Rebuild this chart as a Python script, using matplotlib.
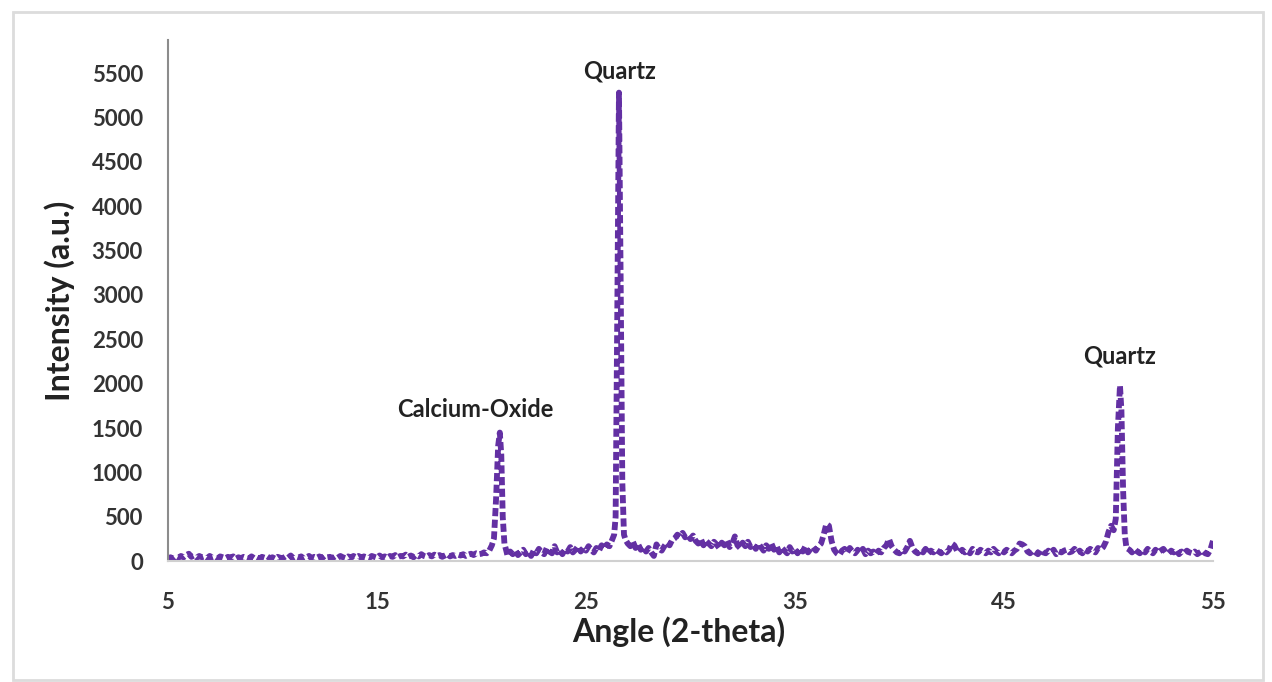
import numpy as np
import matplotlib.pyplot as plt
from matplotlib.patches import Rectangle

# XRD scan, angle (2-theta) and intensity (a.u.)
angle = [
    5.0, 5.125, 5.25, 5.375, 5.5, 5.625, 5.75, 5.875,
    6.0, 6.125, 6.25, 6.375, 6.5, 6.625, 6.75, 6.875,
    7.0, 7.125, 7.25, 7.375, 7.5, 7.625, 7.75, 7.875,
    8.0, 8.125, 8.25, 8.375, 8.5, 8.625, 8.75, 8.875,
    9.0, 9.125, 9.25, 9.375, 9.5, 9.625, 9.75, 9.875,
    10.0, 10.125, 10.25, 10.375, 10.5, 10.625, 10.75, 10.875,
    11.0, 11.125, 11.25, 11.375, 11.5, 11.625, 11.75, 11.875,
    12.0, 12.125, 12.25, 12.375, 12.5, 12.625, 12.75, 12.875,
    13.0, 13.125, 13.25, 13.375, 13.5, 13.625, 13.75, 13.875,
    14.0, 14.125, 14.25, 14.375, 14.5, 14.625, 14.75, 14.875,
    15.0, 15.125, 15.25, 15.375, 15.5, 15.625, 15.75, 15.875,
    16.0, 16.125, 16.25, 16.375, 16.5, 16.625, 16.75, 16.875,
    17.0, 17.125, 17.25, 17.375, 17.5, 17.625, 17.75, 17.875,
    18.0, 18.125, 18.25, 18.375, 18.5, 18.625, 18.75, 18.875,
    19.0, 19.125, 19.25, 19.375, 19.5, 19.625, 19.75, 19.875,
    20.0, 20.125, 20.25, 20.375, 20.5,
    20.6, 20.7, 20.8, 20.88, 20.95, 21.02, 21.1, 21.2,
    21.25, 21.375, 21.5, 21.625, 21.75, 21.875,
    22.0, 22.125, 22.25, 22.375, 22.5, 22.625, 22.75, 22.875,
    23.0, 23.125, 23.25, 23.375, 23.5, 23.625, 23.75, 23.875,
    24.0, 24.125, 24.25, 24.375, 24.5, 24.625, 24.75, 24.875,
    25.0, 25.125, 25.25, 25.375, 25.5, 25.625, 25.75, 25.875,
    26.0, 26.125, 26.25, 26.35,
    26.42, 26.5, 26.58, 26.66, 26.74, 26.82, 26.9,
    27.0, 27.125, 27.25, 27.375, 27.5, 27.625, 27.75, 27.875,
    28.0, 28.125, 28.25, 28.375, 28.5, 28.625, 28.75, 28.875,
    29.0, 29.125, 29.25, 29.375, 29.5, 29.625, 29.75, 29.875,
    30.0, 30.125, 30.25, 30.375, 30.5, 30.625, 30.75, 30.875,
    31.0, 31.125, 31.25, 31.375, 31.5, 31.625, 31.75, 31.875,
    32.0, 32.125, 32.25, 32.375, 32.5, 32.625, 32.75, 32.875,
    33.0, 33.125, 33.25, 33.375, 33.5, 33.625, 33.75, 33.875,
    34.0, 34.125, 34.25, 34.375, 34.5, 34.625, 34.75, 34.875,
    35.0, 35.125, 35.25, 35.375, 35.5, 35.625, 35.75, 35.875,
    36.0, 36.125, 36.25, 36.375, 36.5, 36.625, 36.75, 36.875,
    37.0, 37.125, 37.25, 37.375, 37.5, 37.625, 37.75, 37.875,
    38.0, 38.125, 38.25, 38.375, 38.5, 38.625, 38.75, 38.875,
    39.0, 39.125, 39.25, 39.375, 39.5, 39.625, 39.75, 39.875,
    40.0, 40.125, 40.25, 40.375, 40.5, 40.625, 40.75, 40.875,
    41.0, 41.125, 41.25, 41.375, 41.5, 41.625, 41.75, 41.875,
    42.0, 42.125, 42.25, 42.375, 42.5, 42.625, 42.75, 42.875,
    43.0, 43.125, 43.25, 43.375, 43.5, 43.625, 43.75, 43.875,
    44.0, 44.125, 44.25, 44.375, 44.5, 44.625, 44.75, 44.875,
    45.0, 45.125, 45.25, 45.375, 45.5, 45.625, 45.75, 45.875,
    46.0, 46.125, 46.25, 46.375, 46.5, 46.625, 46.75, 46.875,
    47.0, 47.125, 47.25, 47.375, 47.5, 47.625, 47.75, 47.875,
    48.0, 48.125, 48.25, 48.375, 48.5, 48.625, 48.75, 48.875,
    49.0, 49.125, 49.25, 49.375, 49.5, 49.625, 49.75, 49.875,
    50.0, 50.125, 50.25,
    50.35, 50.45, 50.55, 50.62, 50.7, 50.78, 50.86,
    51.0, 51.125, 51.25, 51.375, 51.5, 51.625, 51.75, 51.875,
    52.0, 52.125, 52.25, 52.375, 52.5, 52.625, 52.75, 52.875,
    53.0, 53.125, 53.25, 53.375, 53.5, 53.625, 53.75, 53.875,
    54.0, 54.125, 54.25, 54.375, 54.5, 54.625, 54.75, 54.875,
    55.0,
]
intensity = [
    20, 45, 30, 55, 40, 60, 45, 70,
    85, 50, 65, 40, 60, 45, 55, 35,
    60, 40, 50, 30, 55, 45, 35, 50,
    40, 55, 30, 45, 35, 50, 40, 30,
    55, 35, 45, 30, 50, 40, 55, 35,
    45, 30, 50, 40, 35, 55, 40, 65,
    35, 50, 40, 55, 30, 45, 60, 35,
    50, 40, 55, 35, 60, 45, 50, 35,
    55, 40, 60, 45, 35, 55, 40, 60,
    45, 60, 40, 55, 45, 35, 60, 50,
    40, 65, 45, 55, 40, 60, 50, 70,
    45, 60, 55, 75, 50, 65, 45, 70,
    55, 80, 60, 50, 70, 55, 75, 60,
    70, 50, 65, 80, 55, 70, 60, 75,
    65, 80, 60, 75, 85, 70, 90, 80,
    85, 100, 90, 120, 180,
    260, 700, 1300, 1450, 1200, 500, 200, 110,
    60, 110, 80, 120, 70, 100,
    130, 80, 110, 60, 120, 90, 140, 100,
    80, 150, 110, 90, 170, 100, 130, 80,
    140, 110, 160, 100, 130, 170, 110, 150,
    120, 170, 130, 100, 150, 120, 180, 140,
    190, 170, 240, 300,
    500, 2800, 5280, 3200, 900, 300, 240,
    200, 170, 220, 150, 190, 130, 160, 110,
    150, 100, 60, 190, 140, 120, 170, 210,
    180, 240, 260, 300, 280, 320, 270, 300,
    250, 290, 230, 200, 250, 180, 230, 200,
    170, 220, 190, 150, 210, 180, 230, 160,
    200, 280, 180, 150, 210, 170, 220, 160,
    190, 140, 200, 160, 120, 180, 140, 200,
    130, 170, 100, 150, 120, 90, 160, 110,
    140, 90, 150, 110, 170, 100, 140, 160,
    120, 170, 200, 300, 420, 400, 230, 130,
    90, 70, 120, 140, 100, 150, 110, 90,
    130, 100, 140, 80, 120, 90, 110, 80,
    120, 100, 150, 180, 250, 170, 130, 100,
    90, 130, 110, 160, 230, 150, 110, 90,
    130, 100, 140, 90, 120, 100, 130, 110,
    90, 120, 100, 130, 200, 180, 120, 100,
    130, 100, 120, 90, 140, 110, 100, 130,
    110, 90, 120, 100, 140, 110, 90, 120,
    100, 130, 110, 90, 120, 140, 200, 190,
    170, 110, 90, 120, 100, 80, 130, 100,
    90, 120, 100, 130, 80, 110, 100, 120,
    130, 100, 110, 140, 100, 120, 90, 130,
    110, 140, 120, 100, 150, 130, 160, 220,
    330, 400, 350,
    480, 1500, 1980, 1700, 800, 300, 150,
    130, 100, 140, 110, 90, 130, 100, 140,
    110, 90, 130, 100, 120, 140, 100, 90,
    120, 100, 130, 80, 110, 90, 120, 100,
    90, 110, 80, 100, 120, 90, 80, 130,
    230,
]

x_ticks = [5, 15, 25, 35, 45, 55]
y_ticks = list(range(0, 6000, 500))

peak_labels = ['Calcium-Oxide', 'Quartz', 'Quartz']
peak_label_x = [19.7, 26.6, 50.55]
peak_label_y = [1705, 5520, 2315]

plt.rcParams['font.family'] = ['Lato', 'DejaVu Sans']
plt.rcParams['font.weight'] = 'bold'

fig = plt.figure(figsize=(12.72, 6.82), dpi=100)
ax = fig.add_axes([0.132, 0.177, 0.8216, 0.764])

ax.plot(angle, intensity, color='#6330a3', linewidth=4.2,
        linestyle=(0, (1.4, 0.6)), dash_capstyle='butt')

ax.set_xlim(5, 55)
ax.set_ylim(0, 5870)
ax.set_xticks(x_ticks)
ax.set_yticks(y_ticks)
ax.tick_params(axis='both', length=0, labelsize=16, labelcolor='#333333')
ax.tick_params(axis='x', pad=22)
ax.tick_params(axis='y', pad=18)
for lbl in ax.get_xticklabels() + ax.get_yticklabels():
    lbl.set_fontweight('bold')

for side in ['top', 'right']:
    ax.spines[side].set_visible(False)
ax.spines['left'].set_color('#8c8c8c')
ax.spines['left'].set_linewidth(1.5)
ax.spines['bottom'].set_color('#d0d0d0')
ax.spines['bottom'].set_linewidth(1.5)

ax.set_xlabel('Angle (2-theta)', fontsize=23, fontweight='bold', color='#222222')
ax.set_ylabel('Intensity (a.u.)', fontsize=23, fontweight='bold', color='#222222')
ax.xaxis.set_label_coords(0.489, -0.105)
ax.yaxis.set_label_coords(-0.089, 0.5)

for txt, px, py in zip(peak_labels, peak_label_x, peak_label_y):
    ax.text(px, py, txt, ha='center', va='center', fontsize=17,
            fontweight='bold', color='#222222')

# light chart border
fig.patches.append(Rectangle((0.0102, 0.003), 0.983, 0.979, transform=fig.transFigure,
                             fill=False, edgecolor='#dcdcdc', linewidth=2))

fig.savefig('out.png', dpi=100)
